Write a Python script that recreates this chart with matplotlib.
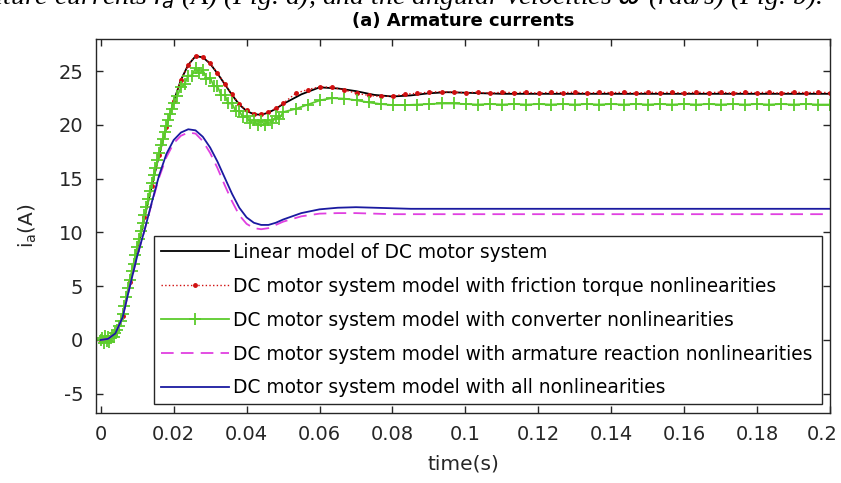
import numpy as np
import matplotlib
matplotlib.use("Agg")
import matplotlib.pyplot as plt
from matplotlib.transforms import ScaledTranslation

plt.rcParams["font.family"] = ["DejaVu Sans"]
plt.rcParams["axes.unicode_minus"] = False
plt.rcParams["mathtext.fontset"] = "dejavusans"

# ---- time grids -------------------------------------------------------------
t_fine = np.round(np.arange(0.0, 0.0501, 0.002), 4)          # 26 points
t_coarse = np.round(np.arange(0.055, 0.2001, 0.005), 4)      # 30 points
t_std = np.concatenate([t_fine, t_coarse])

t_conv = np.concatenate([
    np.round(np.arange(0.0, 0.00401, 0.0004), 5),           # 11 points
    np.round(np.arange(0.0045, 0.02001, 0.0005), 5),        # 32 points
    np.round(np.arange(0.021, 0.05001, 0.001), 4),          # 30 points
    np.linspace(0.0535, 0.2, 45),                           # 45 points
])
t_fric = np.concatenate([t_fine, np.linspace(0.0535, 0.2, 45)])

# ---- armature currents (A) -------------------------------------------------
ia_linear = [
    0, 0.1, 0.6, 2.2, 5.4, 8.4, 11.4, 14.3, 17.2, 19.8,
    22.2, 24.2, 25.6, 26.4, 26.3, 25.7, 24.8, 23.8, 22.8, 21.9,
    21.3, 21.0, 20.95, 21.15, 21.5, 21.95,
    22.85, 23.5, 23.4, 23.15, 22.8, 22.65, 22.75, 22.95, 23.05, 23.0,
    22.95, 22.9, 22.9, 22.9, 22.9, 22.9, 22.9, 22.9, 22.9, 22.9,
    22.9, 22.9, 22.9, 22.9, 22.9, 22.9, 22.9, 22.9, 22.9, 22.9,
]

ia_friction = [
    0, 0.1, 0.6, 2.2, 5.4, 8.4, 11.4, 14.3, 17.2, 19.8,
    22.2, 24.2, 25.6, 26.45, 26.35, 25.75, 24.85, 23.85, 22.85, 21.95,
    21.35, 21.05, 21.0, 21.2, 21.55, 22.0,
    22.95, 23.3, 23.55, 23.5, 23.25, 22.95, 22.75, 22.65, 22.7, 22.85,
    22.95, 23.05, 23.1, 23.05, 23.0, 23.05, 22.95, 23.05, 23.0, 23.05,
    22.95, 23.05, 23.0, 23.05, 22.95, 23.05, 23.0, 23.05, 22.95, 23.05,
    23.0, 23.05, 22.95, 23.05, 23.0, 23.05, 22.95, 23.05, 23.0, 23.05,
    22.95, 23.05, 23.0, 23.05, 23.0,
]

ia_converter = [
    0.0, 0.2, -0.3, 0.4, -0.1, 0.3, -0.2, 0.2, 0.4, 0.3, 0.6,
    0.9, 1.3, 1.8, 2.4, 3.2, 4.0, 4.8, 5.6, 6.4, 7.1,
    7.9, 8.6, 9.4, 10.1, 10.9, 11.6, 12.4, 13.1, 13.9, 14.6,
    15.3, 16.0, 16.7, 17.4, 18.1, 18.7, 19.3, 19.9, 20.5, 21.0,
    21.5, 22.0,
    22.7, 23.5, 23.8, 24.6, 24.6, 25.3, 24.8, 25.1, 24.3, 24.4,
    23.6, 23.6, 22.8, 22.8, 22.0, 22.0, 21.3, 21.3, 20.7, 20.8,
    20.2, 20.5, 20.0, 20.4, 20.0, 20.5, 20.2, 20.8, 20.6, 21.2,
    21.5, 21.9, 22.3, 22.5, 22.45, 22.3, 22.1, 21.95, 21.85, 21.85,
    21.9, 21.95, 22.0, 22.0, 21.95, 21.9, 21.95, 21.9, 21.95, 21.9,
    21.95, 21.9, 21.95, 21.9, 21.95, 21.9, 21.95, 21.9, 21.95, 21.9,
    21.95, 21.9, 21.95, 21.9, 21.95, 21.9, 21.95, 21.9, 21.95, 21.9,
    21.95, 21.9, 21.95, 21.9, 21.9,
]

ia_armature = [
    0, 0.1, 0.6, 2.1, 5.0, 7.8, 10.2, 12.7, 15.1, 17.0,
    18.3, 19.0, 19.3, 19.2, 18.5, 17.4, 16.0, 14.4, 12.9, 11.6,
    10.8, 10.4, 10.3, 10.4, 10.7, 11.0,
    11.5, 11.75, 11.8, 11.8, 11.75, 11.7, 11.7, 11.7, 11.7, 11.7,
    11.7, 11.7, 11.7, 11.7, 11.7, 11.7, 11.7, 11.7, 11.7, 11.7,
    11.7, 11.7, 11.7, 11.7, 11.7, 11.7, 11.7, 11.7, 11.7, 11.7,
]

ia_all = [
    0, 0.1, 0.6, 2.1, 5.0, 7.8, 10.2, 12.8, 15.3, 17.3,
    18.6, 19.3, 19.6, 19.5, 18.9, 17.9, 16.6, 15.1, 13.6, 12.3,
    11.4, 10.9, 10.7, 10.7, 10.9, 11.2,
    11.8, 12.15, 12.3, 12.35, 12.3, 12.25, 12.2, 12.2, 12.2, 12.2,
    12.2, 12.2, 12.2, 12.2, 12.2, 12.2, 12.2, 12.2, 12.2, 12.2,
    12.2, 12.2, 12.2, 12.2, 12.2, 12.2, 12.2, 12.2, 12.2, 12.2,
]

labels = [
    "Linear model of DC motor system",
    "DC motor system model with friction torque nonlinearities",
    "DC motor system model with converter nonlinearities",
    "DC motor system model with armature reaction nonlinearities",
    "DC motor system model with all nonlinearities",
]

x_ticks = [0, 0.02, 0.04, 0.06, 0.08, 0.1, 0.12, 0.14, 0.16, 0.18, 0.2]
x_ticklabels = ["0", "0.02", "0.04", "0.06", "0.08", "0.1", "0.12", "0.14",
                "0.16", "0.18", "0.2"]
y_ticks = [-5, 0, 5, 10, 15, 20, 25]

# ---- figure -----------------------------------------------------------------
W, H = 841, 483
fig = plt.figure(figsize=(W / 100, H / 100), dpi=100)
ax = fig.add_axes([96 / W, 1 - 413 / H, (830 - 96) / W, (413 - 39) / H])

ax.plot(t_std, ia_linear, color="black", lw=1.3, label=labels[0])
ax.plot(t_fric, ia_friction, color="#d01010", lw=1.0, ls=":", marker=".",
        ms=5, label=labels[1])
ax.plot(t_conv, ia_converter, color="#5ccc2c", lw=1.3, marker="+", ms=9,
        mew=1.3, label=labels[2])
ax.plot(t_std, ia_armature, color="#e040e0", lw=1.3, ls=(0, (7, 4)),
        label=labels[3])
ax.plot(t_std, ia_all, color="#1a1aa0", lw=1.3, label=labels[4])

ax.set_xlim(-0.0013, 0.2)
ax.set_ylim(-6.8, 28)
ax.set_xticks(x_ticks)
ax.set_xticklabels(x_ticklabels)
ax.set_yticks(y_ticks)

for s in ax.spines.values():
    s.set_color("#262626")
    s.set_linewidth(1.0)
ax.tick_params(direction="in", top=True, right=True, length=5, width=1.0,
               color="#262626", labelcolor="#262626", labelsize=14, pad=9)

# keep the last x tick label inside the canvas
last = ax.get_xticklabels()[-1]
last.set_transform(last.get_transform()
                   + ScaledTranslation(-8 / 100, 0, fig.dpi_scale_trans))

ax.set_title("(a) Armature currents", fontsize=13, fontweight="bold", pad=9)
ax.set_xlabel("time(s)", fontsize=14.5, color="#262626", labelpad=7)
ax.set_ylabel(r"i$_\mathregular{a}$(A)", fontsize=14.5, color="#262626",
              labelpad=14)

leg = ax.legend(loc="lower left",
                bbox_to_anchor=(154 / W, 1 - 404 / H, (822 - 154) / W,
                                (404 - 237) / H),
                bbox_transform=fig.transFigure, mode="expand",
                fontsize=13.4, handlelength=3.7, handletextpad=0.2,
                labelspacing=0.8, borderaxespad=0, borderpad=0.35,
                numpoints=1, fancybox=False, framealpha=1,
                edgecolor="#262626")
leg.get_frame().set_linewidth(1.0)

# caption line from the surrounding text, cut by the top edge
fig.text(-56 / W, 1 + 4 / H,
         r"armature currents $i_a$ (A) (Fig. a), and the angular "
         r"velocities $\omega$ (rad/s) (Fig. b).",
         family="Liberation Serif", fontsize=20, va="center", ha="left",
         style="italic")

fig.savefig("out.png", dpi=100)
